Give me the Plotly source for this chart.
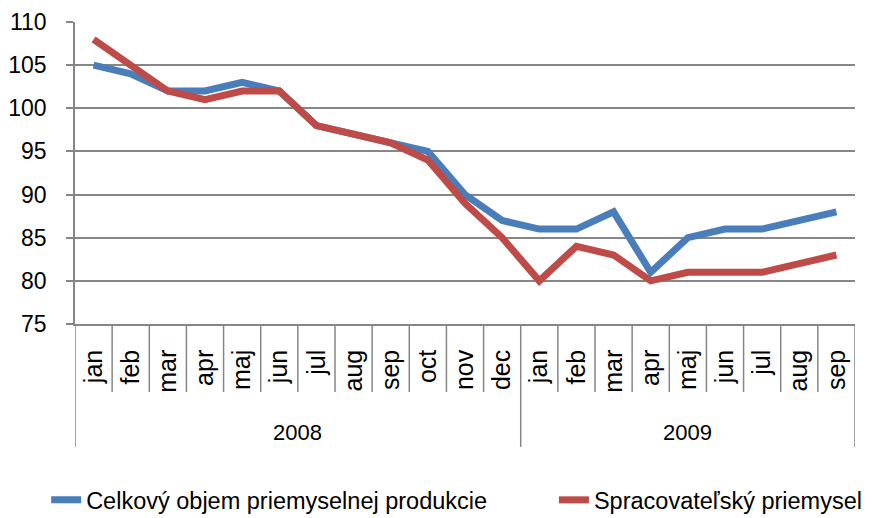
import plotly.graph_objects as go

months = ["jan", "feb", "mar", "apr", "maj", "jun", "jul", "aug", "sep", "oct", "nov", "dec",
          "jan", "feb", "mar", "apr", "maj", "jun", "jul", "aug", "sep"]
years = ["2008", "2009"]
year_counts = [12, 9]

celkovy = [105, 104, 102, 102, 103, 102, 98, 97, 96, 95, 90, 87,
           86, 86, 88, 81, 85, 86, 86, 87, 88]
spracovatelsky = [108, 105, 102, 101, 102, 102, 98, 97, 96, 94, 89, 85,
                  80, 84, 83, 80, 81, 81, 81, 82, 83]

series_names = ["Celkový objem priemyselnej produkcie", "Spracovateľský priemysel"]
colors = ["#4A7EBB", "#BE4B48"]
legend_ids = ["legend", "legend2"]

x = list(range(len(months)))
FONT = "Liberation Sans, Arial, sans-serif"
GRID = "#868686"

fig = go.Figure()
for name, vals, col, lg in zip(series_names, [celkovy, spracovatelsky], colors, legend_ids):
    fig.add_trace(go.Scatter(x=x, y=vals, mode="lines", name=name, legend=lg,
                             showlegend=True, line=dict(color=col, width=7)))

shapes = []
# separators between months
for k in range(1, len(months)):
    if k == year_counts[0]:
        continue
    shapes.append(dict(type="line", xref="x", yref="paper", x0=k - 0.5, x1=k - 0.5,
                       y0=0, y1=-0.225, line=dict(color=GRID, width=1.5)))
# year boundaries
bounds = [-0.5]
acc = -0.5
for c in year_counts:
    acc += c
    bounds.append(acc)
for b in bounds:
    shapes.append(dict(type="line", xref="x", yref="paper", x0=b, x1=b,
                       y0=0, y1=-0.407, line=dict(color=GRID, width=1.5)))

annotations = []
for i, yr in enumerate(years):
    center = (bounds[i] + bounds[i + 1]) / 2
    annotations.append(dict(text=yr, xref="x", yref="paper", x=center, y=-0.358,
                            showarrow=False, yanchor="middle",
                            font=dict(family="Liberation Sans Narrow, " + FONT, size=22, color="#000")))

legend_font = dict(family=FONT, size=23.5, color="#000")
fig.update_layout(
    width=865, height=510,
    margin=dict(l=67, r=18, t=14, b=194, autoexpand=False),
    paper_bgcolor="white", plot_bgcolor="white",
    font=dict(family=FONT, color="#000"),
    showlegend=True,
    shapes=shapes, annotations=annotations,
    legend=dict(orientation="h", x=-0.037, xanchor="left", y=-0.583, yanchor="middle",
                font=legend_font, bgcolor="rgba(0,0,0,0)", visible=True),
    legend2=dict(orientation="h", x=0.614, xanchor="left", y=-0.583, yanchor="middle",
                 font=legend_font, bgcolor="rgba(0,0,0,0)", visible=True),
)
fig.update_xaxes(range=[-0.5, len(months) - 0.5], tickmode="array", tickvals=x, ticktext=months,
                 tickangle=-90, showgrid=False, zeroline=False, showline=True,
                 linecolor=GRID, linewidth=1.5, ticks="", automargin=False,
                 ticklabelstandoff=14,
                 tickfont=dict(family=FONT, size=25, color="#000"))
fig.update_yaxes(range=[75, 110], dtick=5, showgrid=True, gridcolor=GRID, gridwidth=1.5,
                 zeroline=False, showline=True, linecolor=GRID, linewidth=1.5,
                 ticks="outside", ticklen=7, tickcolor=GRID, tickwidth=1.5, automargin=False,
                 ticklabelstandoff=15,
                 tickfont=dict(family=FONT, size=23, color="#000"))

fig.write_html("out.html")
